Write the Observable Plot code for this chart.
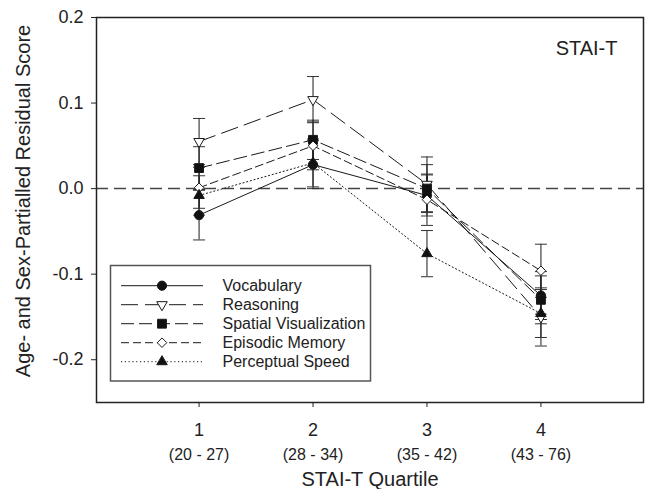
<!DOCTYPE html>
<html><head><meta charset="utf-8">
<script src="https://cdn.jsdelivr.net/npm/d3@7"></script>
<script src="https://cdn.jsdelivr.net/npm/@observablehq/plot@0.6"></script>
<style>
body{margin:0;background:#fff}
#chart{position:relative;width:645px;height:489px}
#chart svg{display:block}
</style>
</head><body><div id="chart"></div>
<script>
// ---- data ----
const quartiles = [1, 2, 3, 4];
const quartileRanges = ["(20 - 27)", "(28 - 34)", "(35 - 42)", "(43 - 76)"];
const yTicks = [-0.2, -0.1, 0.0, 0.1, 0.2];
const seriesNames = ["Vocabulary", "Reasoning", "Spatial Visualization", "Episodic Memory", "Perceptual Speed"];
const vocabulary     = [-0.031, 0.028, -0.008, -0.125];
const vocabularySE   = [ 0.029, 0.028,  0.024,  0.028];
const reasoning      = [ 0.055, 0.104,  0.005, -0.150];
const reasoningSE    = [ 0.027, 0.027,  0.032,  0.034];
const spatial        = [ 0.024, 0.057,  0.000, -0.130];
const spatialSE      = [ 0.025, 0.023,  0.028,  0.028];
const episodic       = [ 0.001, 0.050, -0.013, -0.096];
const episodicSE     = [ 0.024, 0.028,  0.030,  0.031];
const perceptual     = [-0.008, 0.030, -0.076, -0.146];
const perceptualSE   = [ 0.023, 0.028,  0.027,  0.028];

const seriesValues = [vocabulary, reasoning, spatial, episodic, perceptual];
const seriesSE = [vocabularySE, reasoningSE, spatialSE, episodicSE, perceptualSE];

const rows = [];
seriesNames.forEach((name, i) => quartiles.forEach((q, j) =>
  rows.push({series: name, q, v: seriesValues[i][j], se: seriesSE[i][j]})));

// ---- symbols ----
const sqrt3 = Math.sqrt(3);
const triangleDown = {draw(ctx, size) {
  const y = -Math.sqrt(size / (sqrt3 * 3));
  ctx.moveTo(0, -y * 2); ctx.lineTo(-sqrt3 * y, y); ctx.lineTo(sqrt3 * y, y); ctx.closePath();
}};
const capSymbol = {draw(ctx, size) {
  const w = Math.sqrt(size / Math.PI);
  ctx.moveTo(-w, 0); ctx.lineTo(w, 0);
}};

const styles = {
  "Vocabulary":            {dash: null,        symbol: d3.symbolCircle,   fill: "#111", r: 4.6},
  "Reasoning":             {dash: "17,7",      symbol: triangleDown,      fill: "#fff", r: 3.9},
  "Spatial Visualization": {dash: "13,5",      symbol: d3.symbolSquare,   fill: "#111", r: 5.0},
  "Episodic Memory":       {dash: "8,4",       symbol: d3.symbolDiamond2, fill: "#fff", r: 4.3},
  "Perceptual Speed":      {dash: "1.2,2.6",   symbol: d3.symbolTriangle, fill: "#111", r: 3.9}
};

const ink = "#1a1a1a";
const marks = [];
marks.push(Plot.ruleY([0], {stroke: "#444", strokeWidth: 1.5, strokeDasharray: "12,6"}));
// error bars
marks.push(Plot.ruleX(rows, {x: "q", y1: d => d.v - d.se, y2: d => d.v + d.se, stroke: ink, strokeWidth: 1}));
marks.push(Plot.dot(rows, {x: "q", y: d => d.v + d.se, symbol: capSymbol, r: 6, fill: "none", stroke: "#333", strokeWidth: 1}));
marks.push(Plot.dot(rows, {x: "q", y: d => d.v - d.se, symbol: capSymbol, r: 6, fill: "none", stroke: "#333", strokeWidth: 1}));
// lines
for (const name of seriesNames) {
  const s = styles[name];
  marks.push(Plot.line(rows.filter(d => d.series === name), {x: "q", y: "v", stroke: ink, strokeWidth: 1,
    strokeDasharray: s.dash || undefined}));
}
// markers
for (const name of seriesNames) {
  const s = styles[name];
  marks.push(Plot.dot(rows.filter(d => d.series === name), {x: "q", y: "v", symbol: s.symbol, r: s.r,
    fill: s.fill, stroke: ink, strokeWidth: 1}));
}
marks.push(Plot.frame({stroke: "#222", strokeWidth: 1.5}));
marks.push(Plot.axisY(yTicks, {tickSize: 5, tickPadding: 8, fontSize: 18, tickFormat: d => d.toFixed(1), label: null}));
marks.push(Plot.axisX(quartiles, {tickSize: 5, tickPadding: 16, fontSize: 18, tickFormat: d => String(d), label: null}));
marks.push(Plot.text(quartiles, {x: d => d, text: (d, i) => quartileRanges[i], frameAnchor: "bottom", dy: 52, fontSize: 16, lineAnchor: "middle"}));
marks.push(Plot.text(["STAI-T Quartile"], {text: d => d, frameAnchor: "bottom", dy: 77, fontSize: 20, lineAnchor: "middle"}));
marks.push(Plot.text(["Age- and Sex-Partialled Residual Score"], {text: d => d, frameAnchor: "left", dx: -73, dy: -9, rotate: -90, fontSize: 20, textAnchor: "middle", lineAnchor: "middle"}));
marks.push(Plot.text(["STAI-T"], {text: d => d, frameAnchor: "top-right", dx: -26, dy: 31, fontSize: 20, textAnchor: "end", lineAnchor: "middle"}));

const chart = Plot.plot({
  width: 645, height: 489,
  marginTop: 17, marginBottom: 87, marginLeft: 96, marginRight: 2,
  x: {domain: [0.1, 4.9]},
  y: {domain: [-0.25, 0.2]},
  style: {fontFamily: "'Liberation Sans', Arial, sans-serif", color: "#222", background: "#fff"},
  marks
});
const container = document.getElementById("chart");
container.appendChild(chart);

// ---- legend overlay ----
const lg = d3.select(container).append("svg")
  .attr("width", 645).attr("height", 489)
  .style("position", "absolute").style("left", "0px").style("top", "0px")
  .style("font-family", "'Liberation Sans', Arial, sans-serif");
lg.append("rect").attr("x", 110.5).attr("y", 265.5).attr("width", 260).attr("height", 115.5)
  .attr("fill", "none").attr("stroke", "#555").attr("stroke-width", 1.5);
seriesNames.forEach((name, i) => {
  const s = styles[name];
  const y = 285.7 + i * 19;
  lg.append("line").attr("x1", 121).attr("x2", 203).attr("y1", y).attr("y2", y)
    .attr("stroke", ink).attr("stroke-width", 1).attr("stroke-dasharray", s.dash);
  lg.append("path").attr("transform", `translate(162,${y})`)
    .attr("d", d3.symbol(s.symbol, Math.PI * s.r * s.r)())
    .attr("fill", s.fill).attr("stroke", ink).attr("stroke-width", 1);
  lg.append("text").attr("x", 222.5).attr("y", y).attr("dy", "0.35em")
    .attr("font-size", 16).attr("fill", "#222").text(name);
});
</script>
</body></html>
